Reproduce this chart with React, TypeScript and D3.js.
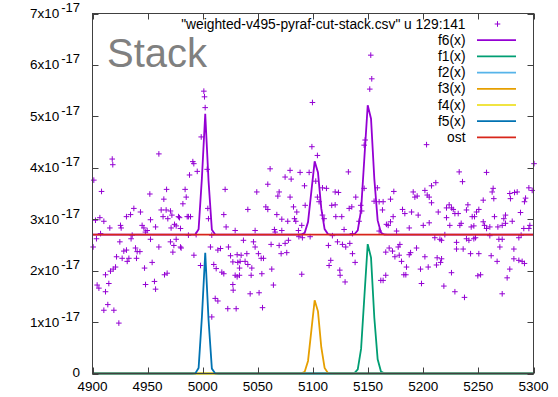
import React from "react";
import * as d3 from "d3";

const W = 558;
const H = 397;
const plot = { left: 92.5, right: 533.5, top: 13.5, bottom: 373.5 };

// axis ticks (y in units of 1e-17)
const xTicks = [4900, 4950, 5000, 5050, 5100, 5150, 5200, 5250, 5300];
const yTicks = [0, 1, 2, 3, 4, 5, 6, 7];
const yExponent = "-17";
const yUnit = 1e-17;

// observed column 129:141 (x, flux in 1e-17)
const obsX = [
  4901.2, 4908.2, 4917.9, 4918.4, 4960.2, 4952.0, 4964.7, 4962.3, 4937.5, 4943.5,
  4930.8, 4934.5, 4902.7, 4906.7, 4910.3, 4925.4, 4926.0, 4915.7, 4945.0, 4946.6,
  4949.6, 4948.0, 4952.6, 4957.2, 4964.0, 4907.3, 4903.6, 4900.6, 4936.0, 4935.0,
  4924.8, 4952.6, 4960.2, 4928.4, 4930.8, 4939.0, 4940.5, 4943.0, 4926.9, 4933.0,
  4931.5, 4939.9, 4921.8, 4920.9, 4918.8, 4916.3, 4911.8, 4947.2, 4954.1, 4965.3,
  4904.2, 4905.8, 4914.8, 4911.8, 4948.1, 4956.2, 4957.2, 4913.9, 4910.3, 4919.4,
  4923.9,
  5001.0, 5001.6, 5002.2, 4998.6, 4991.0, 4991.9, 4988.0, 4995.0, 5004.0, 4967.2,
  4984.0, 4985.0, 5020.3, 4982.0, 5004.6, 4966.8, 4970.7, 4972.0, 4968.3, 4978.0,
  4978.9, 4985.9, 4987.0, 4988.9, 5019.1, 5005.2, 4974.4, 4975.9, 4971.3, 4979.8,
  5021.2, 5029.4, 4987.0, 4994.0, 5008.2, 4970.7, 4975.9, 4973.8, 4979.8, 4980.4,
  4972.9, 4992.0, 5007.0, 5013.7, 5016.1, 5023.3, 5025.2, 5027.3, 5031.2, 5031.8,
  4998.0, 5010.0, 5012.2, 5017.3, 5019.1, 5029.4, 5031.2, 5027.3, 5027.6, 5011.3,
  5013.7, 5022.7, 5030.3, 5008.2, 4967.7,
  5099.5, 5099.0, 5061.1, 5079.2, 5080.2, 5074.7, 5088.3, 5096.5, 5059.0, 5049.0,
  5069.3, 5068.1, 5092.3, 5079.2, 5057.2, 5059.0, 5040.9, 5082.3, 5085.3, 5092.9,
  5067.2, 5071.7, 5077.1, 5083.2, 5084.4, 5089.8, 5047.5, 5065.0, 5065.7, 5071.7,
  5086.8, 5087.2, 5090.4, 5097.4, 5036.9, 5077.7, 5046.0, 5047.5, 5062.0, 5069.3,
  5071.1, 5074.7, 5076.2, 5034.8, 5040.0, 5050.5, 5053.0, 5055.1, 5033.9, 5038.4,
  5040.9, 5044.5, 5033.4, 5033.3, 5043.9, 5053.6, 5062.6, 5089.8, 5064.1, 5043.0,
  5051.1, 5054.2,
  5152.4, 5153.3, 5151.5, 5104.0, 5132.1, 5102.5, 5104.0, 5105.5, 5108.6, 5112.2,
  5120.1, 5123.1, 5117.0, 5120.1, 5108.6, 5110.1, 5120.7, 5126.1, 5138.8, 5132.8,
  5135.2, 5143.3, 5144.2, 5141.8, 5146.4, 5147.3, 5146.4, 5155.4, 5158.4, 5160.0,
  5163.6, 5163.0, 5166.6, 5128.2, 5135.8, 5160.0, 5117.6, 5114.0, 5122.2, 5126.7,
  5129.7, 5133.4, 5135.8, 5138.2, 5116.1, 5114.6, 5124.3, 5124.6, 5129.1, 5166.0,
  5161.5, 5163.6, 5166.0,
  5203.0, 5232.6, 5235.6, 5173.3, 5170.3, 5190.9, 5192.4, 5194.5, 5201.5, 5203.6,
  5205.4, 5207.5, 5211.4, 5207.5, 5223.5, 5221.1, 5225.6, 5227.2, 5181.2, 5183.3,
  5189.4, 5195.4, 5213.6, 5221.1, 5228.7, 5231.7, 5172.7, 5170.3, 5168.2, 5200.0,
  5205.4, 5187.3, 5224.1, 5233.2, 5175.8, 5210.5, 5215.1, 5216.6, 5219.6, 5230.2,
  5178.8, 5177.3, 5169.1, 5172.1, 5193.9, 5188.5, 5187.3, 5230.2, 5178.2, 5174.3,
  5180.3, 5201.5, 5212.6, 5216.6, 5215.7, 5212.0, 5184.8, 5182.4, 5184.2, 5197.5,
  5204.5, 5225.6, 5198.4, 5218.7, 5228.7,
  5257.4, 5300.5, 5263.4, 5262.5, 5278.5, 5282.8, 5285.2, 5295.8, 5298.8, 5264.0,
  5279.1, 5254.4, 5292.8, 5291.8, 5240.5, 5250.4, 5248.3, 5288.2, 5239.2, 5244.4,
  5246.5, 5264.6, 5274.6, 5273.1, 5280.7, 5234.4, 5254.4, 5255.6, 5257.4, 5260.4,
  5245.9, 5243.5, 5267.7, 5271.6, 5274.6, 5296.7, 5295.8, 5291.2, 5239.2, 5241.4,
  5245.9, 5247.4, 5260.4, 5268.6, 5271.6, 5286.7, 5288.8, 5236.2, 5242.9, 5250.4,
  5261.6, 5267.0, 5269.5, 5282.2, 5282.2, 5286.7, 5289.7, 5291.8, 5278.5, 5252.0,
  5249.5, 5276.1, 5271.6, 5237.4,
];
const obsY = [
  3.76, 3.54, 4.17, 4.06, 4.27, 3.49, 3.39, 3.18, 3.21, 3.14,
  3.05, 3.09, 2.98, 3.03, 2.96, 2.88, 2.83, 2.83, 2.88, 2.83,
  2.78, 2.75, 2.99, 2.85, 3.05, 2.72, 2.62, 2.46, 2.69, 2.62,
  2.56, 2.61, 2.46, 2.38, 2.40, 2.44, 2.37, 2.37, 2.24, 2.24,
  2.18, 2.24, 2.27, 2.07, 2.03, 1.99, 1.92, 2.05, 2.16, 1.92,
  1.72, 1.66, 1.75, 1.59, 1.73, 1.79, 1.64, 1.34, 1.23, 1.23,
  0.98,
  5.49, 5.38, 5.17, 4.60, 4.12, 4.08, 3.86, 3.93, 3.97, 3.58,
  3.58, 3.43, 3.58, 3.30, 3.21, 3.18, 3.16, 3.08, 3.01, 3.05,
  3.03, 3.05, 3.05, 3.05, 3.09, 3.01, 2.90, 2.87, 2.83, 2.82,
  2.85, 2.78, 2.69, 2.70, 2.69, 2.56, 2.61, 2.49, 2.46, 2.44,
  2.36, 2.30, 2.46, 2.40, 2.43, 2.46, 2.29, 2.17, 2.31, 2.16,
  2.10, 2.12, 2.04, 1.97, 1.94, 1.91, 1.88, 1.73, 1.62, 1.46,
  1.41, 1.26, 1.26, 1.10, 1.95,
  5.27, 4.41, 3.98, 3.95, 3.78, 3.82, 3.91, 3.91, 3.68, 3.53,
  3.53, 3.45, 3.65, 3.43, 3.24, 3.19, 3.19, 3.24, 3.14, 3.27,
  3.09, 3.00, 2.96, 3.01, 2.96, 2.88, 2.78, 2.80, 2.75, 2.78,
  2.78, 2.66, 2.64, 2.66, 2.59, 2.59, 2.56, 2.46, 2.51, 2.49,
  2.33, 2.53, 2.35, 2.30, 2.33, 2.33, 2.24, 2.24, 2.18, 2.18,
  2.12, 2.05, 2.05, 1.91, 1.91, 1.94, 2.03, 1.93, 1.72, 1.55,
  1.57, 1.28,
  6.19, 5.73, 5.53, 4.24, 3.92, 3.74, 3.43, 3.34, 3.61, 3.60,
  3.53, 3.52, 3.27, 3.28, 3.08, 3.01, 3.05, 3.05, 3.43, 3.21,
  3.24, 3.27, 3.16, 2.96, 4.44, 4.54, 3.60, 3.35, 3.61, 3.34,
  3.34, 3.18, 2.90, 2.80, 2.72, 2.77, 2.68, 2.49, 2.56, 2.51,
  2.46, 2.53, 2.33, 2.16, 2.20, 2.10, 2.01, 1.91, 1.78, 2.36,
  1.81, 1.81, 1.91,
  4.45, 3.92, 3.73, 3.54, 3.39, 3.53, 3.43, 3.45, 3.56, 3.47,
  3.43, 3.65, 3.71, 3.32, 3.28, 3.22, 3.22, 3.19, 3.19, 3.11,
  3.14, 3.08, 3.14, 3.03, 3.11, 3.11, 3.05, 2.95, 2.88, 2.88,
  2.93, 2.83, 2.88, 2.88, 2.77, 2.64, 2.61, 2.59, 2.70, 2.55,
  2.51, 2.46, 2.44, 2.38, 2.44, 2.35, 2.31, 2.42, 2.30, 2.27,
  2.18, 2.27, 2.25, 2.23, 2.16, 2.11, 2.07, 1.92, 1.92, 2.03,
  2.07, 1.96, 1.75, 1.70, 1.59,
  3.91, 4.08, 3.60, 3.53, 3.50, 3.52, 3.53, 3.61, 3.56, 3.40,
  3.40, 3.37, 3.41, 3.34, 3.28, 3.19, 3.14, 3.13, 3.18, 3.05,
  3.05, 3.05, 3.08, 3.01, 2.96, 2.92, 2.95, 2.88, 2.82, 2.85,
  2.87, 2.85, 2.85, 2.88, 2.92, 2.88, 2.82, 2.82, 2.62, 2.59,
  2.62, 2.64, 2.68, 2.61, 2.61, 2.64, 2.69, 2.42, 2.33, 2.33,
  2.29, 2.18, 2.46, 2.42, 2.23, 2.20, 2.18, 2.14, 2.03, 1.92,
  1.90, 1.86, 1.55, 1.48,
];

// fitted model: constant continuum plus gaussian components
const ostLevel = 2.7;
const compNames = ["f1(x)", "f2(x)", "f3(x)", "f4(x)", "f5(x)"];
const compCenters = [5150.6, 5050, 5102.3, 5050, 5002.2];
const compAmps = [2.6, 0, 1.46, 0, 2.35];
const compSigmas = [3.8, 3, 3.6, 3, 2.4];
const compColors = ["#009e73", "#56b4e9", "#e69f00", "#f0e442", "#0072b2"];
const SAMPLES = 134;

const dataTitle = '"weighted-v495-pyraf-cut-stack.csv" u 129:141';
const purple = "#9400d3";
const ostColor = "#d8261a";
const FONT = '"Liberation Sans", Arial, sans-serif';

export default function App() {
  const x = d3.scaleLinear().domain([4900, 5300]).range([plot.left, plot.right]);
  const y = d3.scaleLinear().domain([0, 7 * yUnit]).range([plot.bottom, plot.top]);

  const sx = d3.range(SAMPLES).map((k) => 4900 + (k * 400) / (SAMPLES - 1));
  const gauss = (i: number, v: number) =>
    compAmps[i] * Math.exp(-((v - compCenters[i]) ** 2) / (2 * compSigmas[i] ** 2));

  const line = d3
    .line<[number, number]>()
    .x((d) => x(d[0]))
    .y((d) => y(d[1] * yUnit));

  const compPaths = compNames.map((_, i) => line(sx.map((v) => [v, gauss(i, v)])));
  const totalPath = line(
    sx.map((v) => [v, ostLevel + compNames.reduce((s, _, i) => s + gauss(i, v), 0)])
  );
  const ostPath = line(sx.map((v) => [v, ostLevel]));

  const plus = (cx: number, cy: number, r = 2.8) =>
    `M${cx - r},${cy}h${2 * r}M${cx},${cy - r}v${2 * r}`;
  const pointsPath = obsX.map((v, i) => plus(x(v), y(obsY[i] * yUnit))).join("");

  const keyRight = 465.5;
  const keyLine = [477, 516];
  const keyRows = [
    { label: "f6(x)", color: purple },
    ...compNames.map((n, i) => ({ label: n, color: compColors[i] })),
    { label: "ost", color: ostColor },
  ];
  const rowY = (r: number) => 24 + r * 16.2;

  const tickLen = 6;

  return (
    <svg
      width={W}
      height={H}
      style={{ position: "absolute", left: 0, top: 0, background: "#fff" }}
      fontFamily={FONT}
    >
      <rect x={0} y={0} width={W} height={H} fill="#fff" />

      {/* data points */}
      <path d={pointsPath} stroke={purple} strokeWidth={1} fill="none" />

      {/* model curves */}
      <path d={totalPath ?? ""} stroke={purple} strokeWidth={1.8} fill="none" />
      {compPaths.map((p, i) => (
        <path key={i} d={p ?? ""} stroke={compColors[i]} strokeWidth={1.8} fill="none" />
      ))}
      <path d={ostPath ?? ""} stroke={ostColor} strokeWidth={1.8} fill="none" />

      {/* border and mirrored ticks */}
      <rect
        x={plot.left}
        y={plot.top}
        width={plot.right - plot.left}
        height={plot.bottom - plot.top}
        fill="none"
        stroke="#404040"
        strokeWidth={1}
      />
      {xTicks.map((t) => (
        <g key={"xt" + t} stroke="#404040">
          <line x1={Math.round(x(t)) + 0.5} x2={Math.round(x(t)) + 0.5} y1={plot.bottom} y2={plot.bottom - tickLen} />
          <line x1={Math.round(x(t)) + 0.5} x2={Math.round(x(t)) + 0.5} y1={plot.top} y2={plot.top + tickLen} />
        </g>
      ))}
      {yTicks.map((t) => (
        <g key={"yt" + t} stroke="#404040">
          <line x1={plot.left} x2={plot.left + tickLen} y1={Math.round(y(t * yUnit)) + 0.5} y2={Math.round(y(t * yUnit)) + 0.5} />
          <line x1={plot.right} x2={plot.right - tickLen} y1={Math.round(y(t * yUnit)) + 0.5} y2={Math.round(y(t * yUnit)) + 0.5} />
        </g>
      ))}

      {/* tick labels */}
      {xTicks.map((t) => (
        <text key={"xl" + t} x={x(t)} y={391} textAnchor="middle" fontSize={13.5} fill="#000">
          {t}
        </text>
      ))}
      {yTicks.map((t) =>
        t === 0 ? (
          <text key={"yl" + t} x={80} y={y(0) + 3} textAnchor="end" fontSize={13.5} fill="#000">
            0
          </text>
        ) : (
          <text key={"yl" + t} x={80} y={y(t * yUnit) + 4.5} textAnchor="end" fontSize={13.5} fill="#000">
            {`${t}x10`}
            <tspan dx={2} dy={-6} fontSize={13}>
              {yExponent}
            </tspan>
          </text>
        )
      )}

      {/* panel label */}
      <text x={107} y={67} fontSize={40} fill="#808080">
        Stack
      </text>

      {/* key */}
      <text x={keyRight} y={rowY(0) + 4.5} textAnchor="end" fontSize={13.8} fill="#000">
        {dataTitle}
      </text>
      <path d={plus(497.5, rowY(0))} stroke={purple} strokeWidth={1} />
      {keyRows.map((r, i) => (
        <g key={r.label}>
          <text x={keyRight} y={rowY(i + 1) + 4.5} textAnchor="end" fontSize={13.8} fill="#000">
            {r.label}
          </text>
          <line x1={keyLine[0]} x2={keyLine[1]} y1={rowY(i + 1)} y2={rowY(i + 1)} stroke={r.color} strokeWidth={1.8} />
        </g>
      ))}
    </svg>
  );
}
